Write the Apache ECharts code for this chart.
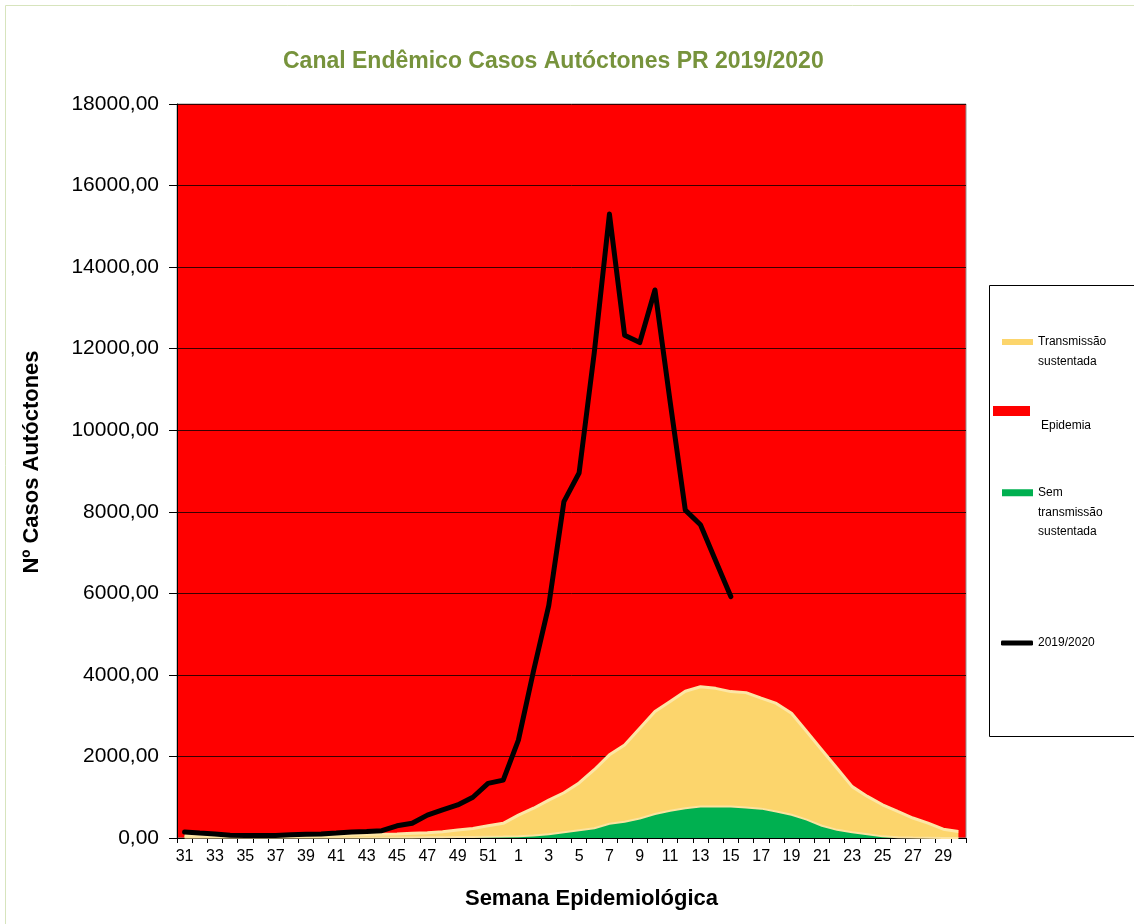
<!DOCTYPE html>
<html>
<head>
    <meta charset="utf-8">
    <title>Canal Endêmico Casos Autóctones PR 2019/2020</title>
    <script src="https://cdn.jsdelivr.net/npm/echarts@6/dist/echarts.min.js"></script>
    <style>
        * {
            margin: 0;
            padding: 0;
        }
        #main {
            width: 1134px;
            height: 924px;
        }
    </style>
</head>
<body>
<div id="main"></div>
<script>
    // semanas epidemiologicas 31..52 de 2019 e 1..30 de 2020
    var semanas = ['31','32','33','34','35','36','37','38','39','40','41','42','43','44','45','46','47','48','49','50','51','52',
        '1','2','3','4','5','6','7','8','9','10','11','12','13','14','15','16','17','18','19','20','21','22','23','24','25','26','27','28','29','30'];

    // limite superior (transmissao sustentada)
    var transmissao = [60, 55, 50, 50, 50, 50, 50, 55, 60, 65, 70, 80, 85, 95, 100, 115, 130, 155, 195, 235, 300, 360,
        560, 730, 930, 1110, 1350, 1675, 2040, 2280, 2690, 3100, 3350, 3600, 3710, 3670, 3590, 3565, 3430, 3300, 3060,
        2610, 2160, 1710, 1260, 1020, 815, 650, 490, 365, 215, 160];

    // limite inferior (sem transmissao sustentada)
    var semTransmissao = [15, 10, 10, 10, 10, 10, 10, 10, 10, 10, 10, 10, 10, 15, 15, 15, 20, 20, 25, 25, 30, 35,
        45, 60, 90, 140, 190, 240, 350, 400, 480, 590, 670, 730, 770, 775, 770, 750, 720, 650, 570,
        450, 300, 200, 140, 90, 40, 20, 10, 5, 0, 0];

    // casos 2019/2020 (ate semana 15)
    var casos = [150, 120, 100, 70, 60, 60, 60, 80, 90, 100, 120, 150, 160, 180, 300, 360, 560, 690, 810, 1000, 1340, 1420,
        2400, 4100, 5700, 8250, 8950, 11900, 15300, 12330, 12150, 13440, 10700, 8040, 7680, 6800, 5920];

    var yTicks = [0, 2000, 4000, 6000, 8000, 10000, 12000, 14000, 16000, 18000];

    var fonte = '"Liberation Sans", Arial, sans-serif';

    // textos da legenda (linhas vazias no inicio para alinhar a 1a linha com o icone)
    var textoLegenda = {
        'Transmissão sustentada': '\nTransmissão\nsustentada',
        'Epidemia': '\nEpidemia',
        'Sem transmissão sustentada': '\n\nSem\ntransmissão\nsustentada',
        '2019/2020': '2019/2020'
    };

    function legenda(nome, left, top, w, h, lh, padLeft, icon) {
        return {
            data: [nome],
            orient: 'vertical',
            left: left,
            top: top,
            padding: 0,
            itemWidth: w,
            itemHeight: h,
            icon: icon || 'rect',
            selectedMode: false,
            formatter: function (n) {
                return textoLegenda[n];
            },
            textStyle: {
                fontFamily: fonte,
                fontSize: 12,
                color: '#000',
                lineHeight: lh,
                padding: [0, 0, 0, padLeft]
            }
        };
    }

    var chart = echarts.init(document.getElementById('main'));
    var option = {
        backgroundColor: '#fff',
        animation: false,
        title: {
            text: 'Canal Endêmico Casos Autóctones PR 2019/2020',
            left: 278,
            top: 45,
            textStyle: {
                fontFamily: fonte,
                fontSize: 23,
                fontWeight: 'bold',
                color: '#77933C'
            }
        },
        graphic: [
            {
                type: 'rect',
                shape: {x: 5.5, y: 5.5, width: 1140, height: 940},
                style: {fill: 'none', stroke: '#D7E4BD', lineWidth: 1},
                silent: true
            },
            {
                type: 'rect',
                shape: {x: 989.5, y: 285.5, width: 160, height: 451},
                style: {fill: '#fff', stroke: '#000', lineWidth: 1},
                silent: true,
                z: -1
            }
        ],
        legend: [
            legenda('Transmissão sustentada', 1002, 312, 31, 6, 20, 0),
            legenda('Epidemia', 993, 381, 37, 10, 30, 6),
            legenda('Sem transmissão sustentada', 1002, 444, 31, 7, 19.5, 0),
            legenda('2019/2020', 1001, 633, 32, 5, 20, 0, 'roundRect')
        ],
        grid: {
            left: 177,
            right: 168,
            top: 104,
            bottom: 86,
            show: true,
            backgroundColor: '#FF0000',
            borderColor: '#909090',
            borderWidth: 1
        },
        xAxis: {
            type: 'category',
            data: semanas,
            boundaryGap: true,
            name: 'Semana Epidemiológica',
            nameLocation: 'middle',
            nameGap: 50,
            nameTextStyle: {
                fontFamily: fonte,
                fontSize: 22,
                fontWeight: 'bold',
                color: '#000',
                padding: [0, 0, 0, 40]
            },
            axisLine: {lineStyle: {color: '#000', width: 1}},
            axisTick: {show: true, interval: 0, length: 5, lineStyle: {color: '#000'}},
            axisLabel: {
                interval: 1,
                margin: 11,
                fontFamily: fonte,
                fontSize: 16,
                color: '#000'
            },
            splitLine: {show: false}
        },
        yAxis: {
            type: 'value',
            min: yTicks[0],
            max: yTicks[yTicks.length - 1],
            interval: 2000,
            name: 'Nº Casos Autóctones',
            nameLocation: 'middle',
            nameGap: 134,
            nameRotate: 90,
            nameTextStyle: {
                fontFamily: fonte,
                fontSize: 22,
                fontWeight: 'bold',
                color: '#000',
                padding: [0, 0, 0, 18]
            },
            axisLine: {show: true, lineStyle: {color: '#000', width: 1}},
            axisTick: {show: true, length: 8, lineStyle: {color: '#000'}},
            axisLabel: {
                margin: 18,
                fontFamily: fonte,
                fontSize: 21,
                color: '#000',
                formatter: function (v) {
                    return v.toFixed(2).replace('.', ',');
                }
            },
            splitLine: {show: true, lineStyle: {color: '#3a0000', width: 1}}
        },
        series: [
            {
                name: 'Transmissão sustentada',
                type: 'line',
                data: transmissao,
                symbol: 'none',
                z: 2,
                lineStyle: {color: '#FDE6A6', width: 3},
                itemStyle: {color: '#FCD56C'},
                areaStyle: {color: '#FCD56C', opacity: 1}
            },
            {
                name: 'Epidemia',
                type: 'line',
                data: [],
                symbol: 'none',
                itemStyle: {color: '#FF0000'}
            },
            {
                name: 'Sem transmissão sustentada',
                type: 'line',
                data: semTransmissao,
                symbol: 'none',
                z: 3,
                lineStyle: {color: '#FBE3A0', width: 2},
                itemStyle: {color: '#00B050'},
                areaStyle: {color: '#00B050', opacity: 1}
            },
            {
                name: '2019/2020',
                type: 'line',
                data: casos,
                symbol: 'none',
                z: 4,
                lineStyle: {color: '#000', width: 5, join: 'round', cap: 'round'},
                itemStyle: {color: '#000'}
            }
        ]
    };
    chart.setOption(option);
</script>
</body>
</html>
